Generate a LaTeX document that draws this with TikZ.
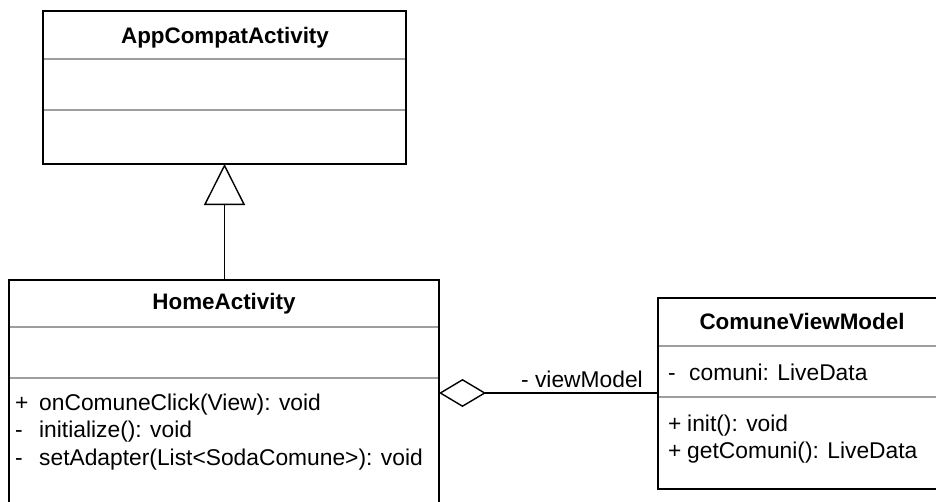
\documentclass[tikz,border=0pt]{standalone}
\usepackage{fontspec}
\setmainfont{Liberation Sans}
\usetikzlibrary{arrows.meta}
\newcommand{\vis}[2][24pt]{\makebox[#1][l]{#2}}
\begin{document}
\begin{tikzpicture}[x=1pt,y=-1pt,
  classbox/.style={draw=black, line width=1.4pt, fill=white, inner sep=0pt, outer sep=0pt, anchor=north west},
  divider/.style={draw=black!38, line width=1.1pt},
  classname/.style={font=\fontsize{22.4}{27}\selectfont\bfseries, anchor=base, inner sep=0pt},
  member/.style={font=\fontsize{22.8}{27.5}\selectfont, anchor=base west, inner sep=0pt},
  rolelabel/.style={font=\fontsize{22.8}{27.5}\selectfont, anchor=base, inner sep=0pt},
  link/.style={draw=black, line width=1.4pt}]
\useasboundingbox (0,0) rectangle (936,501);
\clip (0,0) rectangle (936,501);

% AppCompatActivity
\node[classbox, minimum width=363pt, minimum height=153pt] (app) at (43,11) {};
\draw[divider] (43.7,59) -- (405.3,59);
\draw[divider] (43.7,110) -- (405.3,110);
\node[classname] (appname) at (225,43) {AppCompatActivity};

% HomeActivity (lower edge runs past the page)
\node[classbox, minimum width=430pt, minimum height=240pt] (home) at (9,280) {};
\draw[divider] (9.7,327) -- (438.3,327);
\draw[divider] (9.7,378) -- (438.3,378);
\node[classname] (homename) at (224,309) {HomeActivity};
\node[member] (m1) at (15,410) {\vis{+}onComuneClick(View): void};
\node[member] (m2) at (15,437.5) {\vis{-}initialize(): void};
\node[member] (m3) at (15,465) {\vis{-}setAdapter(List<SodaComune>): void};

% ComuneViewModel (right edge runs past the page)
\node[classbox, minimum width=290pt, minimum height=191pt] (cvm) at (658,298) {};
\draw[divider] (658.7,346) -- (946,346);
\draw[divider] (658.7,397) -- (946,397);
\node[classname] (cvmname) at (802,329) {ComuneViewModel};
\node[member] (c1) at (668,380) {\vis[21pt]{-}comuni: LiveData};
\node[member] (c2) at (668,431) {\vis[19pt]{+}init(): void};
\node[member] (c3) at (668,458.5) {\vis[19pt]{+}getComuni(): LiveData};

% generalization
\draw[link, -{Triangle[open, length=41pt, width=41pt, line width=1.4pt]}] (home.north -| app.south) -- (app.south);

% aggregation
\coordinate (hr) at (home.east |- 0,393);
\coordinate (cl) at (cvm.west |- 0,393);
\draw[link, {Diamond[open, length=47pt, width=28pt, line width=1.4pt]}-] (hr) -- (cl);
\node[rolelabel] (role) at (582,387) {- viewModel};
\end{tikzpicture}
\end{document}
